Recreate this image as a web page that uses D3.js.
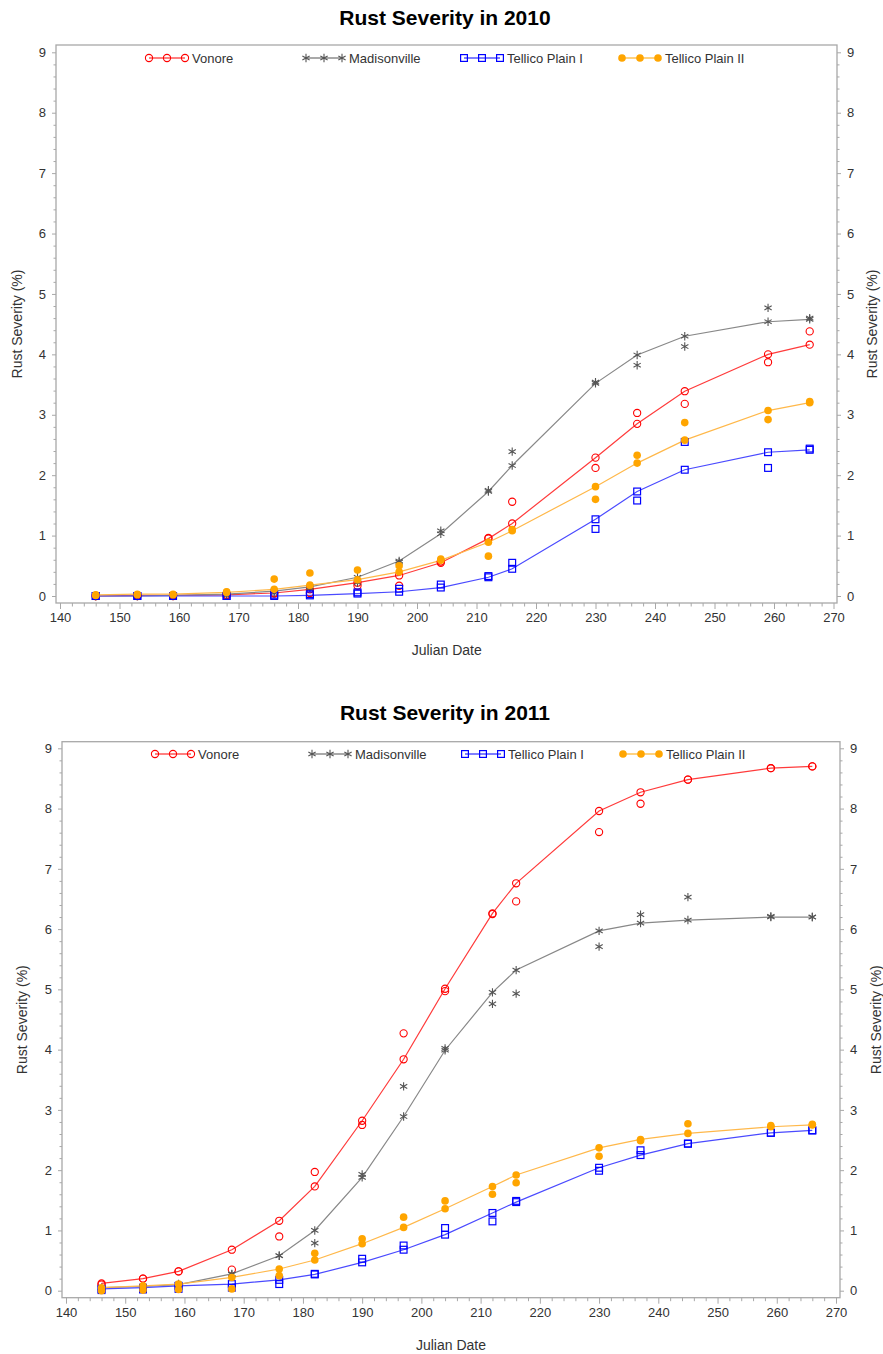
<!DOCTYPE html>
<html>
<head>
<meta charset="utf-8">
<script src="https://cdn.jsdelivr.net/npm/d3@7"></script>
<style>
  body { margin: 0; background: #fff; }
  text { font-family: "Liberation Sans", Arial, sans-serif; }
</style>
</head>
<body>
<svg id="chart" width="883" height="1354"></svg>
<script>
// ---------------- DATA ----------------
const dates = [146,153,159,168,176,182,190,197,204,212,216,230,237,245,259,266];
const seriesNames = ["Vonore", "Madisonville", "Tellico Plain I", "Tellico Plain II"];
const xTickLabels = [140,150,160,170,180,190,200,210,220,230,240,250,260,270];
const yTickLabels = [0,1,2,3,4,5,6,7,8,9];

// 2010 fitted (line) and observed values
const vonoreFit2010 = [0.00,0.01,0.01,0.02,0.05,0.11,0.22,0.34,0.55,0.95,1.20,2.29,2.85,3.39,4.00,4.16];
const vonoreObs2010 = [0.00,0.00,0.00,0.01,0.04,0.05,0.17,0.17,0.57,0.96,1.56,2.12,3.03,3.18,3.87,4.38];
const madisFit2010  = [0.00,0.00,0.01,0.03,0.08,0.15,0.31,0.58,1.03,1.73,2.16,3.52,3.99,4.30,4.54,4.58];
const madisObs2010  = [0.00,0.00,0.00,0.01,0.05,0.13,0.22,0.56,1.08,1.75,2.39,3.54,3.82,4.13,4.77,4.60];
const tp1Fit2010    = [0.00,0.00,0.00,0.00,0.00,0.01,0.04,0.07,0.14,0.31,0.45,1.27,1.73,2.09,2.38,2.42];
const tp1Obs2010    = [0.00,0.00,0.00,0.00,0.02,0.03,0.06,0.12,0.19,0.33,0.55,1.11,1.58,2.55,2.12,2.44];
const tp2Fit2010    = [0.02,0.03,0.03,0.06,0.11,0.18,0.27,0.40,0.59,0.89,1.08,1.81,2.20,2.58,3.07,3.20];
const tp2Obs2010    = [0.01,0.02,0.02,0.07,0.28,0.38,0.43,0.50,0.61,0.66,1.10,1.60,2.33,2.87,2.92,3.22];

// 2011 fitted (line) and observed values
const vonoreFit2011 = [0.12,0.20,0.32,0.68,1.16,1.73,2.82,3.84,5.01,6.26,6.76,7.96,8.27,8.48,8.67,8.70];
const vonoreObs2011 = [0.10,0.20,0.32,0.35,0.90,1.97,2.75,4.27,4.97,6.25,6.46,7.61,8.08,8.48,8.67,8.70];
const madisFit2011  = [0.05,0.07,0.10,0.28,0.58,1.00,1.88,2.89,3.99,4.95,5.32,5.97,6.10,6.15,6.20,6.20];
const madisObs2011  = [0.04,0.06,0.11,0.27,0.58,0.79,1.93,3.39,4.02,4.76,4.93,5.71,6.24,6.53,6.21,6.20];
const tp1Fit2011    = [0.03,0.05,0.08,0.11,0.18,0.27,0.47,0.68,0.93,1.29,1.47,2.04,2.25,2.44,2.62,2.66];
const tp1Obs2011    = [0.01,0.02,0.03,0.05,0.11,0.28,0.53,0.75,1.04,1.15,1.49,1.99,2.33,2.44,2.62,2.66];
const tp2Fit2011    = [0.05,0.08,0.11,0.22,0.36,0.51,0.78,1.05,1.36,1.73,1.92,2.37,2.51,2.61,2.72,2.75];
const tp2Obs2011    = [0.00,0.01,0.02,0.03,0.25,0.62,0.86,1.22,1.49,1.60,1.79,2.23,2.49,2.77,2.74,2.76];

// ---------------- STYLE ----------------
const styles = [
  { marker: "circle", stroke: "#FF0000", line: "#FF3B3B" },
  { marker: "star",   stroke: "#555555", line: "#888888" },
  { marker: "square", stroke: "#0000FF", line: "#4A4AFF" },
  { marker: "dot",    stroke: "#FFA500", line: "#FFB84A" }
];

const svg = d3.select("#chart");
const axisColor = "#A8A8A8";
const textColor = "#333";
const tickFont = 13;

function drawMarker(g, type, x, y, st) {
  if (type === "circle") {
    g.append("circle").attr("cx", x).attr("cy", y).attr("r", 3.6)
      .attr("fill", "none").attr("stroke", st.stroke).attr("stroke-width", 1.1);
  } else if (type === "dot") {
    g.append("circle").attr("cx", x).attr("cy", y).attr("r", 3.8)
      .attr("fill", st.stroke).attr("stroke", "none");
  } else if (type === "square") {
    g.append("rect").attr("x", x - 3.4).attr("y", y - 3.4).attr("width", 6.8).attr("height", 6.8)
      .attr("fill", "none").attr("stroke", st.stroke).attr("stroke-width", 1.2);
  } else if (type === "star") {
    const r = 4.2;
    let d = "";
    [90, 30, 150].forEach(a => {
      const rad = a * Math.PI / 180;
      const dx = r * Math.cos(rad), dy = r * Math.sin(rad);
      d += `M${x - dx},${y - dy}L${x + dx},${y + dy}`;
    });
    g.append("path").attr("d", d).attr("stroke", st.stroke).attr("stroke-width", 1.1).attr("fill", "none");
  }
}

function drawChart(cfg) {
  const { title, titleY, frame, xr, yr, series, legendY, legendX, yLabelX, yLabelRX, xLabelY } = cfg;
  const g = svg.append("g");
  const x = d3.scaleLinear().domain([140, 270]).range(xr);
  const y = d3.scaleLinear().domain([0, 9]).range(yr);

  // title
  g.append("text").attr("x", 445).attr("y", titleY).attr("text-anchor", "middle")
    .attr("font-size", 21).attr("font-weight", "bold").attr("fill", "#000").text(title);

  // frame
  g.append("rect").attr("x", frame.l).attr("y", frame.t)
    .attr("width", frame.r - frame.l).attr("height", frame.b - frame.t)
    .attr("fill", "none").attr("stroke", axisColor).attr("stroke-width", 1.3);

  // x axis (bottom), major + minor
  const xMinor = d3.range(140, 271, 2).filter(v => v % 10 !== 0);
  const xAxisMinor = d3.axisBottom(x).tickValues(xMinor).tickSize(3.5).tickFormat("");
  const xAxis = d3.axisBottom(x).tickValues(xTickLabels).tickSize(6).tickPadding(4);
  [xAxisMinor, xAxis].forEach(ax => {
    const a = g.append("g").attr("transform", `translate(0,${frame.b})`).call(ax);
    a.select(".domain").remove();
    a.selectAll("line").attr("stroke", axisColor);
    a.selectAll("text").attr("font-size", tickFont).attr("fill", textColor)
      .attr("font-family", "Liberation Sans, Arial, sans-serif");
  });

  // y axes (left and right), major + minor
  const yMinor = d3.range(0, 9.01, 0.2).filter(v => Math.abs(v - Math.round(v)) > 0.01);
  const yl = d3.axisLeft(y).tickValues(yTickLabels).tickSize(4).tickPadding(6);
  const ylm = d3.axisLeft(y).tickValues(yMinor).tickSize(2.5).tickFormat("");
  const yrA = d3.axisRight(y).tickValues(yTickLabels).tickSize(4).tickPadding(6);
  const yrm = d3.axisRight(y).tickValues(yMinor).tickSize(2.5).tickFormat("");
  [[ylm, frame.l], [yl, frame.l], [yrm, frame.r], [yrA, frame.r]].forEach(([ax, pos]) => {
    const a = g.append("g").attr("transform", `translate(${pos},0)`).call(ax);
    a.select(".domain").remove();
    a.selectAll("line").attr("stroke", axisColor);
    a.selectAll("text").attr("font-size", tickFont).attr("fill", textColor)
      .attr("font-family", "Liberation Sans, Arial, sans-serif");
  });

  // axis labels
  g.append("text").attr("x", (xr[0] + xr[1]) / 2).attr("y", xLabelY).attr("text-anchor", "middle")
    .attr("font-size", 14).attr("fill", textColor).text("Julian Date");
  const cy = (frame.t + frame.b) / 2;
  [yLabelX, yLabelRX].forEach(lx => {
    g.append("text").attr("transform", `translate(${lx},${cy}) rotate(-90)`)
      .attr("text-anchor", "middle").attr("font-size", 14).attr("fill", textColor)
      .text("Rust Severity (%)");
  });

  // series lines and markers
  const line = d3.line().x(d => x(d[0])).y(d => y(d[1]));
  series.forEach((s, i) => {
    const st = styles[i];
    const fitPts = dates.map((d, k) => [d, s.fit[k]]);
    g.append("path").datum(fitPts).attr("d", line).attr("fill", "none")
      .attr("stroke", st.line).attr("stroke-width", 1.2);
  });
  series.forEach((s, i) => {
    const st = styles[i];
    const mg = g.append("g");
    dates.forEach((d, k) => {
      drawMarker(mg, st.marker, x(d), y(s.obs[k]), st);
      drawMarker(mg, st.marker, x(d), y(s.fit[k]), st);
    });
  });

  // legend
  seriesNames.forEach((name, i) => {
    const st = styles[i];
    const lx = legendX[i];
    const lg = g.append("g");
    lg.append("line").attr("x1", lx).attr("x2", lx + 36).attr("y1", legendY).attr("y2", legendY)
      .attr("stroke", st.stroke).attr("stroke-width", 1.2);
    [0, 18, 36].forEach(o => drawMarker(lg, st.marker, lx + o, legendY, st));
    lg.append("text").attr("x", lx + 43).attr("y", legendY + 4.6).attr("font-size", 13)
      .attr("fill", textColor).text(name);
  });
}

drawChart({
  title: "Rust Severity in 2010", titleY: 25,
  frame: { l: 56, r: 837, t: 45, b: 603 },
  xr: [60, 833.5], yr: [596, 52.3],
  series: [
    { fit: vonoreFit2010, obs: vonoreObs2010 },
    { fit: madisFit2010, obs: madisObs2010 },
    { fit: tp1Fit2010, obs: tp1Obs2010 },
    { fit: tp2Fit2010, obs: tp2Obs2010 }
  ],
  legendY: 58, legendX: [149, 306, 464, 622],
  yLabelX: 22, yLabelRX: 877, xLabelY: 655
});

drawChart({
  title: "Rust Severity in 2011", titleY: 720,
  frame: { l: 62, r: 840, t: 741.7, b: 1297.7 },
  xr: [66, 836], yr: [1290.7, 748.3],
  series: [
    { fit: vonoreFit2011, obs: vonoreObs2011 },
    { fit: madisFit2011, obs: madisObs2011 },
    { fit: tp1Fit2011, obs: tp1Obs2011 },
    { fit: tp2Fit2011, obs: tp2Obs2011 }
  ],
  legendY: 754, legendX: [155, 312, 465, 623],
  yLabelX: 27, yLabelRX: 881, xLabelY: 1350
});
</script>
</body>
</html>
